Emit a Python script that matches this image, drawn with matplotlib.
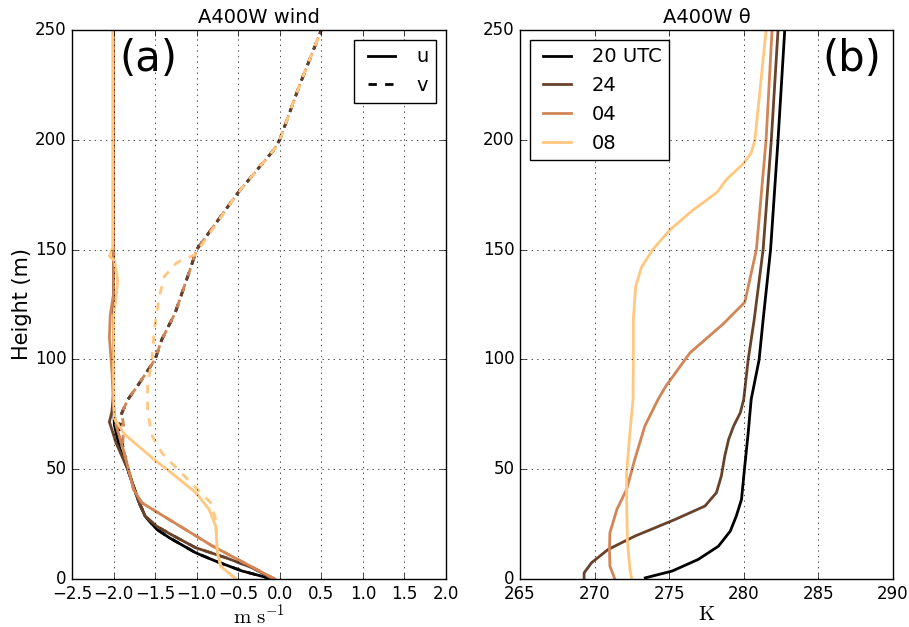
import numpy as np
import matplotlib
matplotlib.use('Agg')
import matplotlib.pyplot as plt

plt.style.use('classic')

######## data
times = ['20 UTC', '24', '04', '08']
colors = [plt.cm.copper(v) for v in np.linspace(0, 1, 4)]

# u wind (m/s) vs height (m)
u_x = [
    [-0.09, -0.45, -0.77, -1.01, -1.33, -1.48, -1.62, -1.70, -1.83, -1.93, -1.99, -2.0, -2.0],
    [-0.08, -0.33, -0.65, -1.01, -1.31, -1.48, -1.62, -1.70, -1.83, -1.97, -2.05, -2.02, -2.0, -2.0],
    [-0.06, -0.81, -1.66, -1.76, -1.82, -1.89, -1.97, -2.0, -2.02, -2.05, -2.04, -2.0, -2.0],
    [-0.53, -0.71, -0.75, -0.77, -0.85, -1.01, -1.36, -1.50, -1.87, -1.99, -2.0, -2.0, -1.97, -1.95, -1.99, -2.05, -2.01, -2.01],
]
u_h = [
    [0, 3.6, 8.1, 11.9, 18.8, 22.6, 28.6, 35.5, 50, 60, 70, 80, 250],
    [0, 5.1, 9.7, 14.2, 20.3, 24, 28.6, 35.5, 50, 62, 71.6, 76, 85, 250],
    [0, 15, 34.7, 40.8, 50, 60, 70, 78, 95, 110, 120, 130, 250],
    [0, 5.8, 11.9, 24, 31.7, 39.3, 50, 54, 66, 73, 90, 120, 128, 136, 145, 147, 151, 250],
]

# v wind (m/s) vs height (m)
v_x = [
    [-0.09, -0.45, -0.77, -1.01, -1.33, -1.48, -1.62, -1.70, -1.83, -1.93, -1.90, -1.83, -1.71, -1.50, -1.42, -1.26, -1.08, -1.0, -0.5, -0.08, 0.0, 0.24, 0.5],
    [-0.08, -0.33, -0.65, -1.01, -1.31, -1.48, -1.62, -1.70, -1.83, -1.95, -1.90, -1.83, -1.71, -1.50, -1.42, -1.26, -1.08, -1.0, -0.5, -0.08, 0.0, 0.24, 0.5],
    [-0.06, -0.81, -1.66, -1.76, -1.82, -1.89, -1.88, -1.90, -1.83, -1.71, -1.50, -1.42, -1.26, -1.08, -1.0, -0.5, -0.08, 0.0, 0.24, 0.5],
    [-0.53, -0.71, -0.75, -0.77, -0.83, -0.99, -1.23, -1.41, -1.53, -1.59, -1.59, -1.54, -1.51, -1.45, -1.39, -1.24, -1.02, -0.5, -0.08, 0.0, 0.24, 0.5],
]
v_h = [
    [0, 3.6, 8.1, 11.9, 18.8, 22.6, 28.6, 35.5, 50, 68, 75.6, 81.6, 88, 100, 109, 121, 140.8, 150, 176, 195, 200, 225, 250],
    [0, 5.1, 9.7, 14.2, 20.3, 24, 28.6, 35.5, 50, 68, 75.6, 81.6, 88, 100, 109, 121, 140.8, 150, 176, 195, 200, 225, 250],
    [0, 15, 34.7, 40.8, 50, 60, 70, 75.6, 81.6, 88, 100, 109, 121, 140.8, 150, 176, 195, 200, 225, 250],
    [0, 5.8, 11.9, 27, 34.7, 40.8, 50, 57, 64.7, 75.6, 89, 98.4, 113.5, 128.5, 137.7, 144, 147.7, 176, 195, 200, 225, 250],
]

# potential temperature (K) vs height (m)
th_x = [
    [273.4, 275.2, 276.95, 278.3, 279.1, 279.5, 279.85, 280.07, 280.3, 280.5, 281.03, 281.3, 281.8, 282.3, 282.75],
    [269.3, 269.3, 269.8, 270.9, 272.7, 275.4, 277.4, 278.17, 278.5, 278.73, 278.99, 279.32, 279.77, 280.0, 280.3, 280.7, 281.3, 281.85, 282.3],
    [271.36, 271.03, 271.0, 271.03, 271.5, 272.15, 272.7, 273.37, 274.26, 274.8, 276.4, 278.6, 280.07, 280.85, 281.5, 281.9],
    [272.5, 272.37, 272.2, 272.15, 272.15, 272.37, 272.58, 272.6, 272.6, 272.75, 273.15, 273.9, 275.05, 276.6, 278.2, 278.85, 279.96, 280.5, 280.75, 281.5],
]
th_h = [
    [0.5, 3.6, 8.9, 14.9, 21.8, 28.6, 36.2, 51.4, 66.6, 81.8, 99.8, 118, 150, 200, 250],
    [0, 2.8, 7.4, 13.4, 19.5, 27.1, 33.2, 39.3, 46.9, 56, 63.6, 69.6, 75.7, 81.8, 100, 118, 150, 200, 250],
    [0, 5.8, 13.4, 21, 31.7, 40.8, 54.5, 69.6, 81.8, 88, 103, 116, 126, 150, 200, 250],
    [0, 4.3, 18, 36.2, 48.4, 66.6, 81.8, 100, 118, 133, 142, 150, 159, 168, 176, 182, 189, 194, 200, 250],
]

lw = 2.0

fig = plt.figure(figsize=(9.09, 6.27), dpi=100, facecolor='white')

######## panel (a): wind
ax1 = fig.add_axes([0.0792, 0.0766, 0.4114, 0.8756])
for i in range(4):
    ax1.plot(u_x[i], u_h[i], '-', color=colors[i], linewidth=lw)
    ax1.plot(v_x[i], v_h[i], '--', color=colors[i], linewidth=lw)
ax1.plot([], [], 'k-', linewidth=lw, label='u')
ax1.plot([], [], 'k--', linewidth=lw, label='v')
ax1.set_xlim(-2.5, 2.0)
ax1.set_ylim(0, 250)
ax1.set_xticks(np.arange(-2.5, 2.01, 0.5))
ax1.grid(True)
ax1.set_xlabel(r'$\mathrm{m\ s^{-1}}$', fontsize=15, labelpad=1)
ax1.set_ylabel('Height (m)', fontsize=15, labelpad=2)
ax1.set_title('A400W wind', fontsize=14)
ax1.legend(loc='upper right', fontsize=14)
ax1.text(0.128, 0.985, '(a)', transform=ax1.transAxes, fontsize=30, va='top', ha='left')

######## panel (b): theta
ax2 = fig.add_axes([0.572, 0.0766, 0.4103, 0.8756])
for i in range(4):
    ax2.plot(th_x[i], th_h[i], '-', color=colors[i], linewidth=lw, label=times[i])
ax2.set_xlim(265, 290)
ax2.set_ylim(0, 250)
ax2.grid(True)
ax2.set_xlabel(r'$\mathrm{K}$', fontsize=15, labelpad=1)
ax2.set_title('A400W θ', fontsize=14)
ax2.legend(loc='upper left', fontsize=14)
ax2.text(0.968, 0.985, '(b)', transform=ax2.transAxes, fontsize=30, va='top', ha='right')

fig.savefig('out.png', dpi=100, facecolor='white')
